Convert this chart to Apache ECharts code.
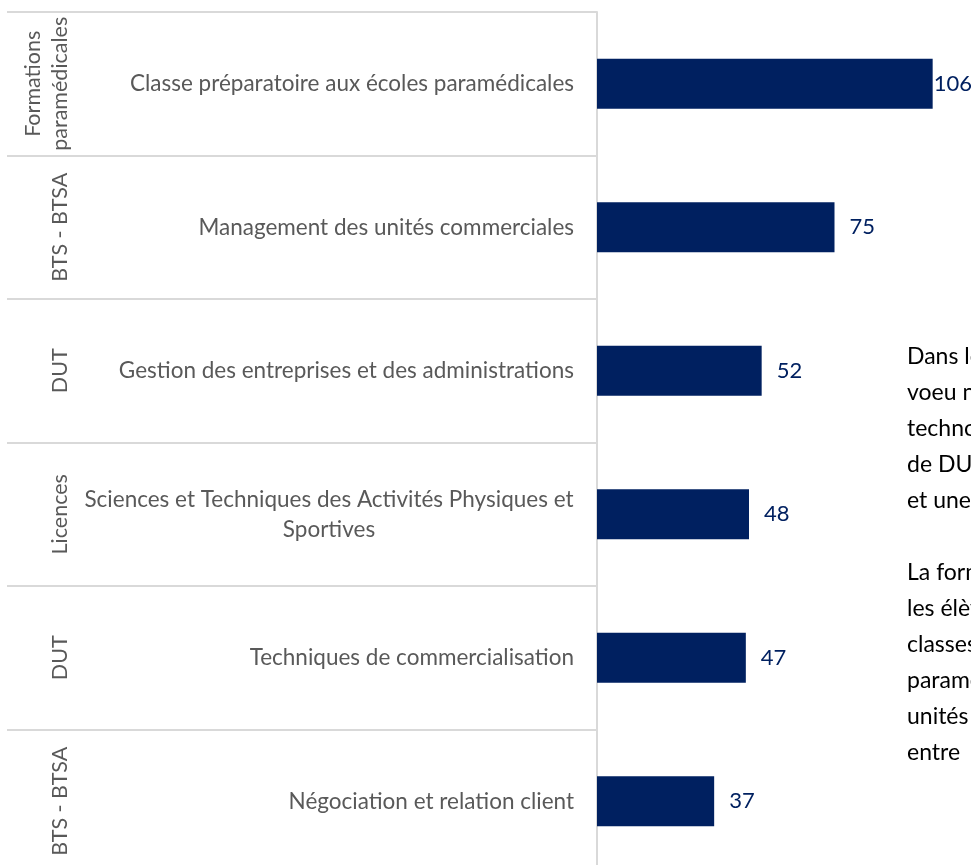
<!DOCTYPE html>
<html>
<head>
<meta charset="utf-8">
<script src="https://cdn.jsdelivr.net/npm/echarts@6/dist/echarts.min.js"></script>
<style>
  html, body { margin: 0; padding: 0; background: #fff; }
  #chart { width: 971px; height: 865px; }
</style>
</head>
<body>
<div id="chart"></div>
<script>
// formations, du haut vers le bas
var formations = [
  "Classe préparatoire aux écoles paramédicales",
  "Management des unités commerciales",
  "Gestion des entreprises et des administrations",
  "Sciences et Techniques des Activités Physiques et\nSportives",
  "Techniques de commercialisation",
  "Négociation et relation client"
];
var groupes = [
  "Formations\nparamédicales",
  "BTS - BTSA",
  "DUT",
  "Licences",
  "DUT",
  "BTS - BTSA"
];
var effectifs = [106, 75, 52, 48, 47, 37];

// texte de l'encadré (coupé par le bord droit)
var encadre1 = ["Dans les", "voeu n°1", "technologie", "de DUT", "et une"];
var encadre2 = ["La formation", "les élèves", "classes", "paramédicales", "unités", "entre"];

var FONT = "Lato";
var NAVY = "#002060";
var FS = 22.5;

var chart = echarts.init(document.getElementById("chart"));

var txt = [];
encadre1.forEach(function (l, i) {
  txt.push({ type: "text", left: 907, top: 345 + i * 36, style: { text: l, fontFamily: FONT, fontSize: 23, fill: "#000" } });
});
encadre2.forEach(function (l, i) {
  txt.push({ type: "text", left: 907, top: 561 + i * 36, style: { text: l, fontFamily: FONT, fontSize: 23, fill: "#000" } });
});

chart.setOption({
  animation: false,
  textStyle: { fontFamily: FONT },
  grid: { left: 597, top: 12, width: 380, height: 861, containLabel: false, outerBoundsMode: "none" },
  xAxis: {
    type: "value",
    min: 0,
    max: 120,
    show: false
  },
  yAxis: [
    {
      type: "category",
      inverse: true,
      data: formations,
      axisLine: { show: true, lineStyle: { color: "#d9d9d9", width: 2 } },
      axisTick: {
        show: true,
        alignWithLabel: false,
        length: 590,
        lineStyle: { color: "#d9d9d9", width: 2 }
      },
      axisLabel: {
        interval: 0,
        margin: 23,
        color: "#595959",
        fontSize: FS,
        fontFamily: FONT,
        lineHeight: 30,
        formatter: function (v) {
          if (v.indexOf("\n") >= 0) {
            return v.split("\n").map(function (s) { return "{c|" + s + "}"; }).join("\n");
          }
          return v;
        },
        rich: {
          c: { width: 490, align: "center", color: "#595959", fontSize: FS, fontFamily: FONT, lineHeight: 30 }
        }
      }
    },
    {
      type: "category",
      inverse: true,
      position: "left",
      // indices: the group names repeat, a category axis would merge them
      data: groupes.map(function (g, i) { return String(i); }),
      axisLine: { show: false },
      axisTick: { show: false },
      axisLabel: {
        interval: 0,
        hideOverlap: false,
        rotate: 90,
        margin: 523,
        align: "center",
        verticalAlign: "bottom",
        color: "#595959",
        fontSize: 21.5,
        fontFamily: FONT,
        lineHeight: 27,
        formatter: function (v, i) { return groupes[i]; }
      }
    }
  ],
  series: [
    {
      type: "bar",
      yAxisIndex: 0,
      data: effectifs.map(function (v, i) {
        return { value: v, label: { distance: i === 0 ? 1 : 15 } };
      }),
      barWidth: 50,
      itemStyle: { color: NAVY },
      label: {
        show: true,
        position: "right",
        color: NAVY,
        fontSize: 22,
        fontFamily: FONT
      }
    }
  ],
  graphic: txt
});
</script>
</body>
</html>
